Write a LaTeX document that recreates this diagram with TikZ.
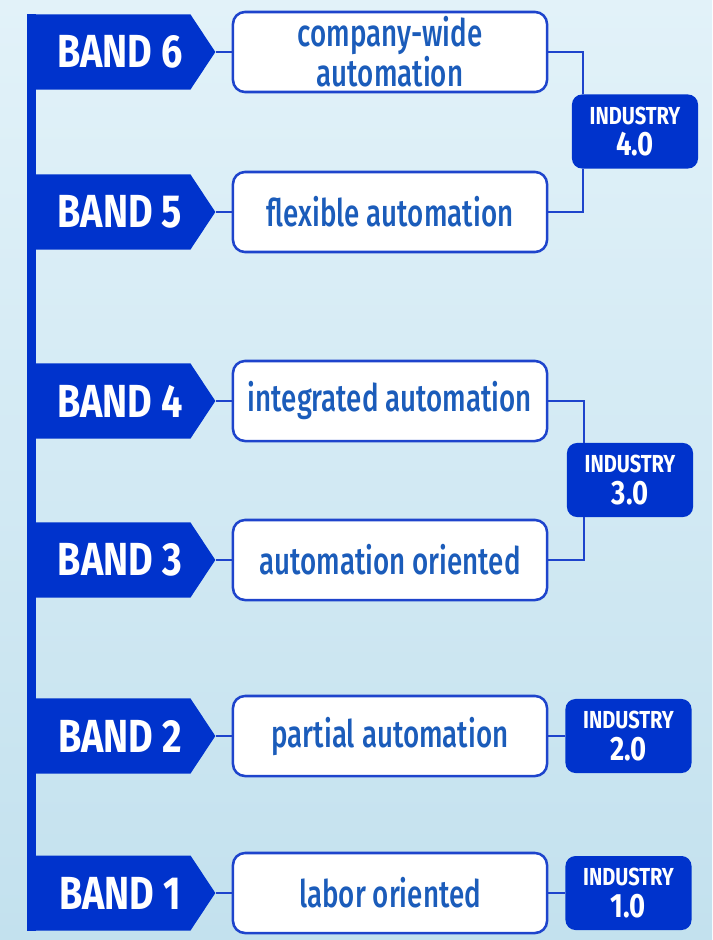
\documentclass[tikz,border=0pt]{standalone}
\usepackage{fontspec}
\setmainfont{Fira Sans}
\newfontfamily\bandfont{Fira Sans}[FakeStretch=0.815]
\newfontfamily\stagefont{Fira Sans Medium}[FakeStretch=0.73]
\usetikzlibrary{shapes.symbols,calc}
\definecolor{bandblue}{HTML}{0033CC}
\definecolor{edgeblue}{HTML}{1E44CC}
\definecolor{textblue}{HTML}{1B5CBA}
\definecolor{bgtop}{HTML}{E2F2F9}
\definecolor{bgbottom}{HTML}{C3E1EE}
\newcommand{\bandlabel}[1]{\hspace*{15.6pt}BAND #1}
\newcommand{\eralabel}[1]{INDUSTRY\\{\fontsize{24}{22}\selectfont #1}}

\begin{document}
\begin{tikzpicture}[x=0.025cm,y=-0.025cm,
 band/.style={signal,signal to=east,signal pointer angle=113,fill=bandblue,text=white,minimum width=4.7cm,minimum height=1.875cm,inner sep=0pt,anchor=west,font=\bandfont\bfseries\fontsize{33}{33}\selectfont},
 stage/.style={draw=edgeblue,line width=1.8pt,fill=white,rounded corners=0.3cm,minimum width=7.85cm,minimum height=2cm,align=center,text=textblue,inner sep=2pt,font=\stagefont\fontsize{27}{24}\selectfont},
 era/.style={fill=bandblue,rounded corners=0.25cm,minimum width=3.15cm,minimum height=1.85cm,align=center,text=white,inner sep=0pt,font=\bandfont\bfseries\fontsize{17.5}{22.5}\selectfont},
 link/.style={draw=edgeblue,line width=1.4pt}]
\fill[top color=bgtop,bottom color=bgbottom] (0,0) rectangle (712,940);

\node[band] (b6) at (27,52) {\bandlabel{6}};
\node[stage] (s6) at (390,52) {company-wide\\automation};
\node[band] (b5) at (27,212) {\bandlabel{5}};
\node[stage] (s5) at (390,212) {flexible automation};
\node[band] (b4) at (27,401) {\bandlabel{4}};
\node[stage] (s4) at (390,401) {integrated automation};
\node[band] (b3) at (27,560) {\bandlabel{3}};
\node[stage] (s3) at (390,560) {automation oriented};
\node[band] (b2) at (27,736) {\bandlabel{2}};
\node[stage] (s2) at (390,736) {partial automation};
\node[band] (b1) at (27,893) {\bandlabel{1}};
\node[stage] (s1) at (390,893) {labor oriented};

\node[era] (i4) at (635,131.5) {\eralabel{4.0}};
\node[era] (i3) at (630,480) {\eralabel{3.0}};
\node[era] (i2) at (628.5,736) {\eralabel{2.0}};
\node[era] (i1) at (628.5,893) {\eralabel{1.0}};

% spine
\fill[bandblue] (b6.north west) rectangle ([xshift=0.225cm]b1.south west);

\draw[link] (b6.east) -- (s6.west);
\draw[link] (b5.east) -- (s5.west);
\draw[link] (b4.east) -- (s4.west);
\draw[link] (b3.east) -- (s3.west);
\draw[link] (b2.east) -- (s2.west);
\draw[link] (b1.east) -- (s1.west);

\draw[link] (s6.east) -| ([xshift=-1.29cm]i4.north);
\draw[link] (s5.east) -| ([xshift=-1.29cm]i4.south);
\draw[link] (s4.east) -| ([xshift=-1.16cm]i3.north);
\draw[link] (s3.east) -| ([xshift=-1.16cm]i3.south);
\draw[link] (s2.east) -- (i2.west);
\draw[link] (s1.east) -- (i1.west);
\end{tikzpicture}
\end{document}
